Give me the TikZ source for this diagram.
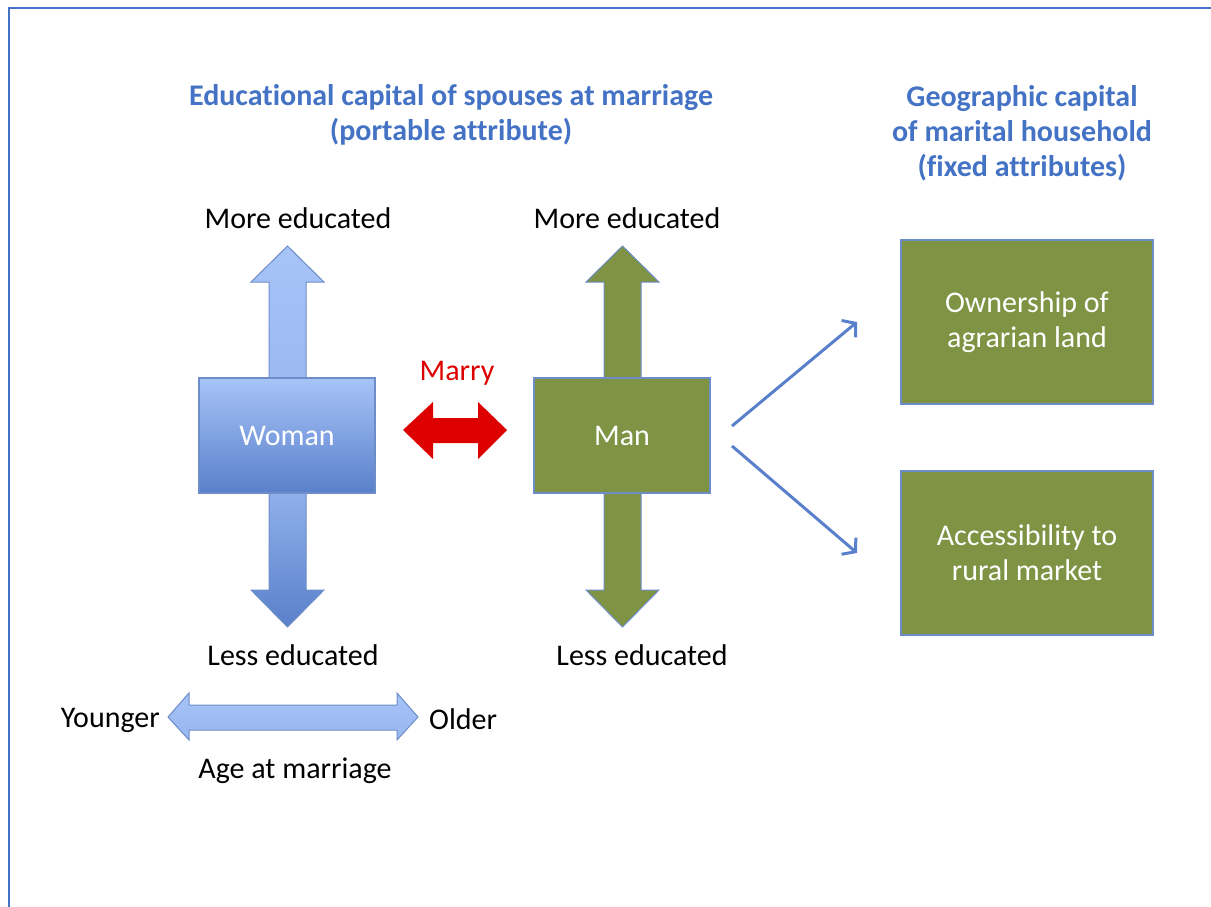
\documentclass[tikz,border=0pt]{standalone}
\usepackage{fontspec}
\setmainfont{Carlito}[Ligatures=NoCommon]
\usetikzlibrary{arrows.meta}

\definecolor{titleblue}{HTML}{4472C4}
\definecolor{edgeblue}{HTML}{6D8DC8}
\definecolor{lightblue}{HTML}{A7C4F8}
\definecolor{darkblue}{HTML}{5A80CB}
\definecolor{olive}{HTML}{7E9343}
\definecolor{marryred}{HTML}{DD0000}

\tikzset{
  txt/.style={font=\fontsize{30}{35}\selectfont, align=center, inner sep=0pt},
  head/.style={txt, font=\fontsize{30}{35}\selectfont\bfseries, text=titleblue},
  spouse/.style={txt, draw=edgeblue, line width=1.2pt, minimum width=176pt, minimum height=115pt, text=white},
  asset/.style={txt, draw=edgeblue, line width=1.2pt, fill=olive, minimum width=252pt, minimum height=164pt, text=white},
  link/.style={draw=darkblue, line width=3pt, -{Straight Barb[length=9pt,width=22pt,line width=3pt]}}
}

\begin{document}
\begin{tikzpicture}[x=1pt,y=-1pt]
\useasboundingbox (0,0) rectangle (1211,907);
\draw[titleblue, line width=2pt] (9,907) -- (9,8) -- (1211,8);

\node[head] (edu) at (451,115) {Educational capital of spouses at marriage\\(portable attribute)};
\node[head] (geo) at (1022,133) {Geographic capital\\of marital household\\(fixed attributes)};

% woman
\shade[top color=lightblue, bottom color=lightblue!85!darkblue, draw=edgeblue, line width=1pt]
  (269,378) -- (269,282) -- (251,282) -- (287.5,246) -- (324,282) -- (306,282) -- (306,378) -- cycle;
\shade[top color=lightblue!70!darkblue, bottom color=darkblue, draw=edgeblue, line width=1pt]
  (269,493) -- (269,590) -- (251,590) -- (287.5,627) -- (324,590) -- (306,590) -- (306,493) -- cycle;
\node[spouse, top color=lightblue, bottom color=darkblue, text depth=0pt] (woman) at (287,435.5) {Woman};

% man
\filldraw[fill=olive, draw=edgeblue, line width=1pt]
  (604,378) -- (604,282) -- (586,282) -- (622.5,246) -- (659,282) -- (641,282) -- (641,378) -- cycle;
\filldraw[fill=olive, draw=edgeblue, line width=1pt]
  (604,493) -- (604,590) -- (586,590) -- (622.5,627) -- (659,590) -- (641,590) -- (641,493) -- cycle;
\node[spouse, fill=olive, text depth=0pt] (man) at (622,435.5) {Man};

\node[txt] (wup) at (298,218) {More educated};
\node[txt] (mup) at (627,218) {More educated};
\node[txt] (wdown) at (293,655) {Less educated};
\node[txt] (mdown) at (642,655) {Less educated};

% marry
\node[txt, text=marryred] (marry) at (457,373) {Marry};
\fill[marryred] (403,430) -- (433,402) -- (433,418) -- (478,418) -- (478,402) -- (507,430)
  -- (478,459) -- (478,443) -- (433,443) -- (433,459) -- cycle;

% household
\node[asset] (land) at (1027,322) {Ownership of\\agrarian land};
\node[asset] (market) at (1027,553) {Accessibility to\\rural market};
\coordinate (from1) at (732,426);
\coordinate (from2) at (732,446);
\coordinate (to1) at (857,322);
\coordinate (to2) at (857,553);
\draw[link] (from1) -- (to1);
\draw[link] (from2) -- (to2);

% age
\shade[top color=lightblue, bottom color=lightblue!80!darkblue, draw=edgeblue, line width=1pt]
  (168,717) -- (189,693) -- (189,705) -- (397,705) -- (397,693) -- (418,717)
  -- (397,740) -- (397,730) -- (189,730) -- (189,740) -- cycle;
\node[txt, anchor=east] (young) at (160,720) {Younger};
\node[txt, anchor=west] (old) at (429,719) {Older};
\node[txt] (age) at (295,771) {Age at marriage};
\end{tikzpicture}
\end{document}
